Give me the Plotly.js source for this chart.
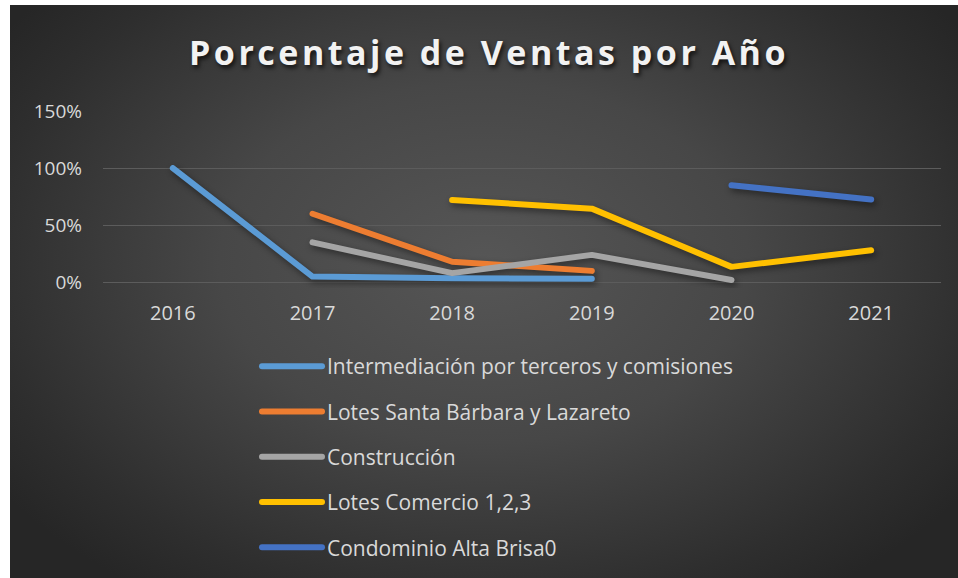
<!DOCTYPE html>
<html>
<head>
<meta charset="utf-8">
<script src="https://cdn.plot.ly/plotly-3.0.1.min.js"></script>
<style>
  html, body { margin: 0; padding: 0; background: #ffffff; width: 958px; height: 578px; overflow: hidden; }
  #chart {
    position: absolute; left: 10px; top: 5px; width: 948px; height: 573px;
    background: radial-gradient(ellipse 62% 70% at 50% 45%, #565656 0%, #474747 45%, #2e2e2e 85%, #262626 100%);
  }
  .scatterlayer path.js-line, .legend .legendlines path {
    stroke-linecap: round !important; stroke-linejoin: round !important;
  }
  .scatterlayer { filter: drop-shadow(2px 3px 3px rgba(0,0,0,0.45)); }
  .gtitle { letter-spacing: 3.5px; }
</style>
</head>
<body>
<div id="chart"></div>
<script>
const years = ["2016", "2017", "2018", "2019", "2020", "2021"];
const seriesNames = [
  "Intermediación por terceros y comisiones",
  "Lotes Santa Bárbara y Lazareto",
  "Construcción",
  "Lotes Comercio 1,2,3",
  "Condominio Alta Brisa0"
];
const intermediacion = [1.00, 0.05, 0.035, 0.03, null, null];
const santaBarbara   = [null, 0.60, 0.18, 0.10, null, null];
const construccion   = [null, 0.35, 0.08, 0.24, 0.02, null];
const comercio       = [null, null, 0.72, 0.645, 0.135, 0.28];
const altaBrisa      = [null, null, null, null, 0.85, 0.725];
const colors = ["#5B9BD5", "#ED7D31", "#A5A5A5", "#FFC000", "#4472C4"];
const yTickVals = [0, 0.5, 1.0, 1.5];
const yTickText = ["0%", "50%", "100%", "150%"];

const allValues = [intermediacion, santaBarbara, construccion, comercio, altaBrisa];
const traces = allValues.map((vals, i) => ({
  type: "scatter",
  mode: "lines",
  x: years,
  y: vals,
  name: seriesNames[i],
  legendgroup: "g" + i,
  line: { color: colors[i], width: 6 },
  connectgaps: false,
  hoverinfo: "skip"
}));

const textColor = "#d9d9d9";
const layout = {
  width: 948,
  height: 573,
  paper_bgcolor: "rgba(0,0,0,0)",
  plot_bgcolor: "rgba(0,0,0,0)",
  font: { family: "Open Sans, sans-serif", color: textColor, size: 20 },
  margin: { l: 93, r: 17, t: 106, b: 290, pad: 0, autoexpand: false },
  title: {
    text: "Porcentaje de Ventas por Año",
    font: { family: "Open Sans, sans-serif", size: 34, weight: 700, color: "#f2f2f2", shadow: "2px 3px 4px rgba(0,0,0,0.7)" },
    x: 0.5 + 5 / 948, xanchor: "center",
    y: 1 - 48 / 573, yanchor: "middle", yref: "container"
  },
  xaxis: {
    type: "category",
    range: [-0.5, 5.5],
    showgrid: false,
    zeroline: false,
    showline: false,
    ticks: "",
    tickangle: 0,
    ticklabelstandoff: 11,
    tickfont: { size: 20, color: textColor },
    fixedrange: true
  },
  yaxis: {
    range: [-0.05, 1.5],
    tickvals: yTickVals,
    ticktext: yTickText,
    showgrid: true,
    gridcolor: "#5c5c5c",
    gridwidth: 1,
    zeroline: false,
    showline: false,
    ticks: "",
    ticklabelstandoff: 20,
    tickfont: { size: 19, color: textColor },
    fixedrange: true
  },
  showlegend: true,
  legend: {
    orientation: "v",
    xref: "container", yref: "container",
    x: 247 / 948, xanchor: "left",
    y: 1 - 341 / 573, yanchor: "top",
    bgcolor: "rgba(0,0,0,0)",
    font: { size: 21, color: textColor },
    itemwidth: 60,
    traceorder: "grouped",
    tracegroupgap: 15,
    itemclick: false,
    itemdoubleclick: false
  }
};

Plotly.newPlot("chart", traces, layout, { displayModeBar: false, staticPlot: true });
</script>
</body>
</html>
